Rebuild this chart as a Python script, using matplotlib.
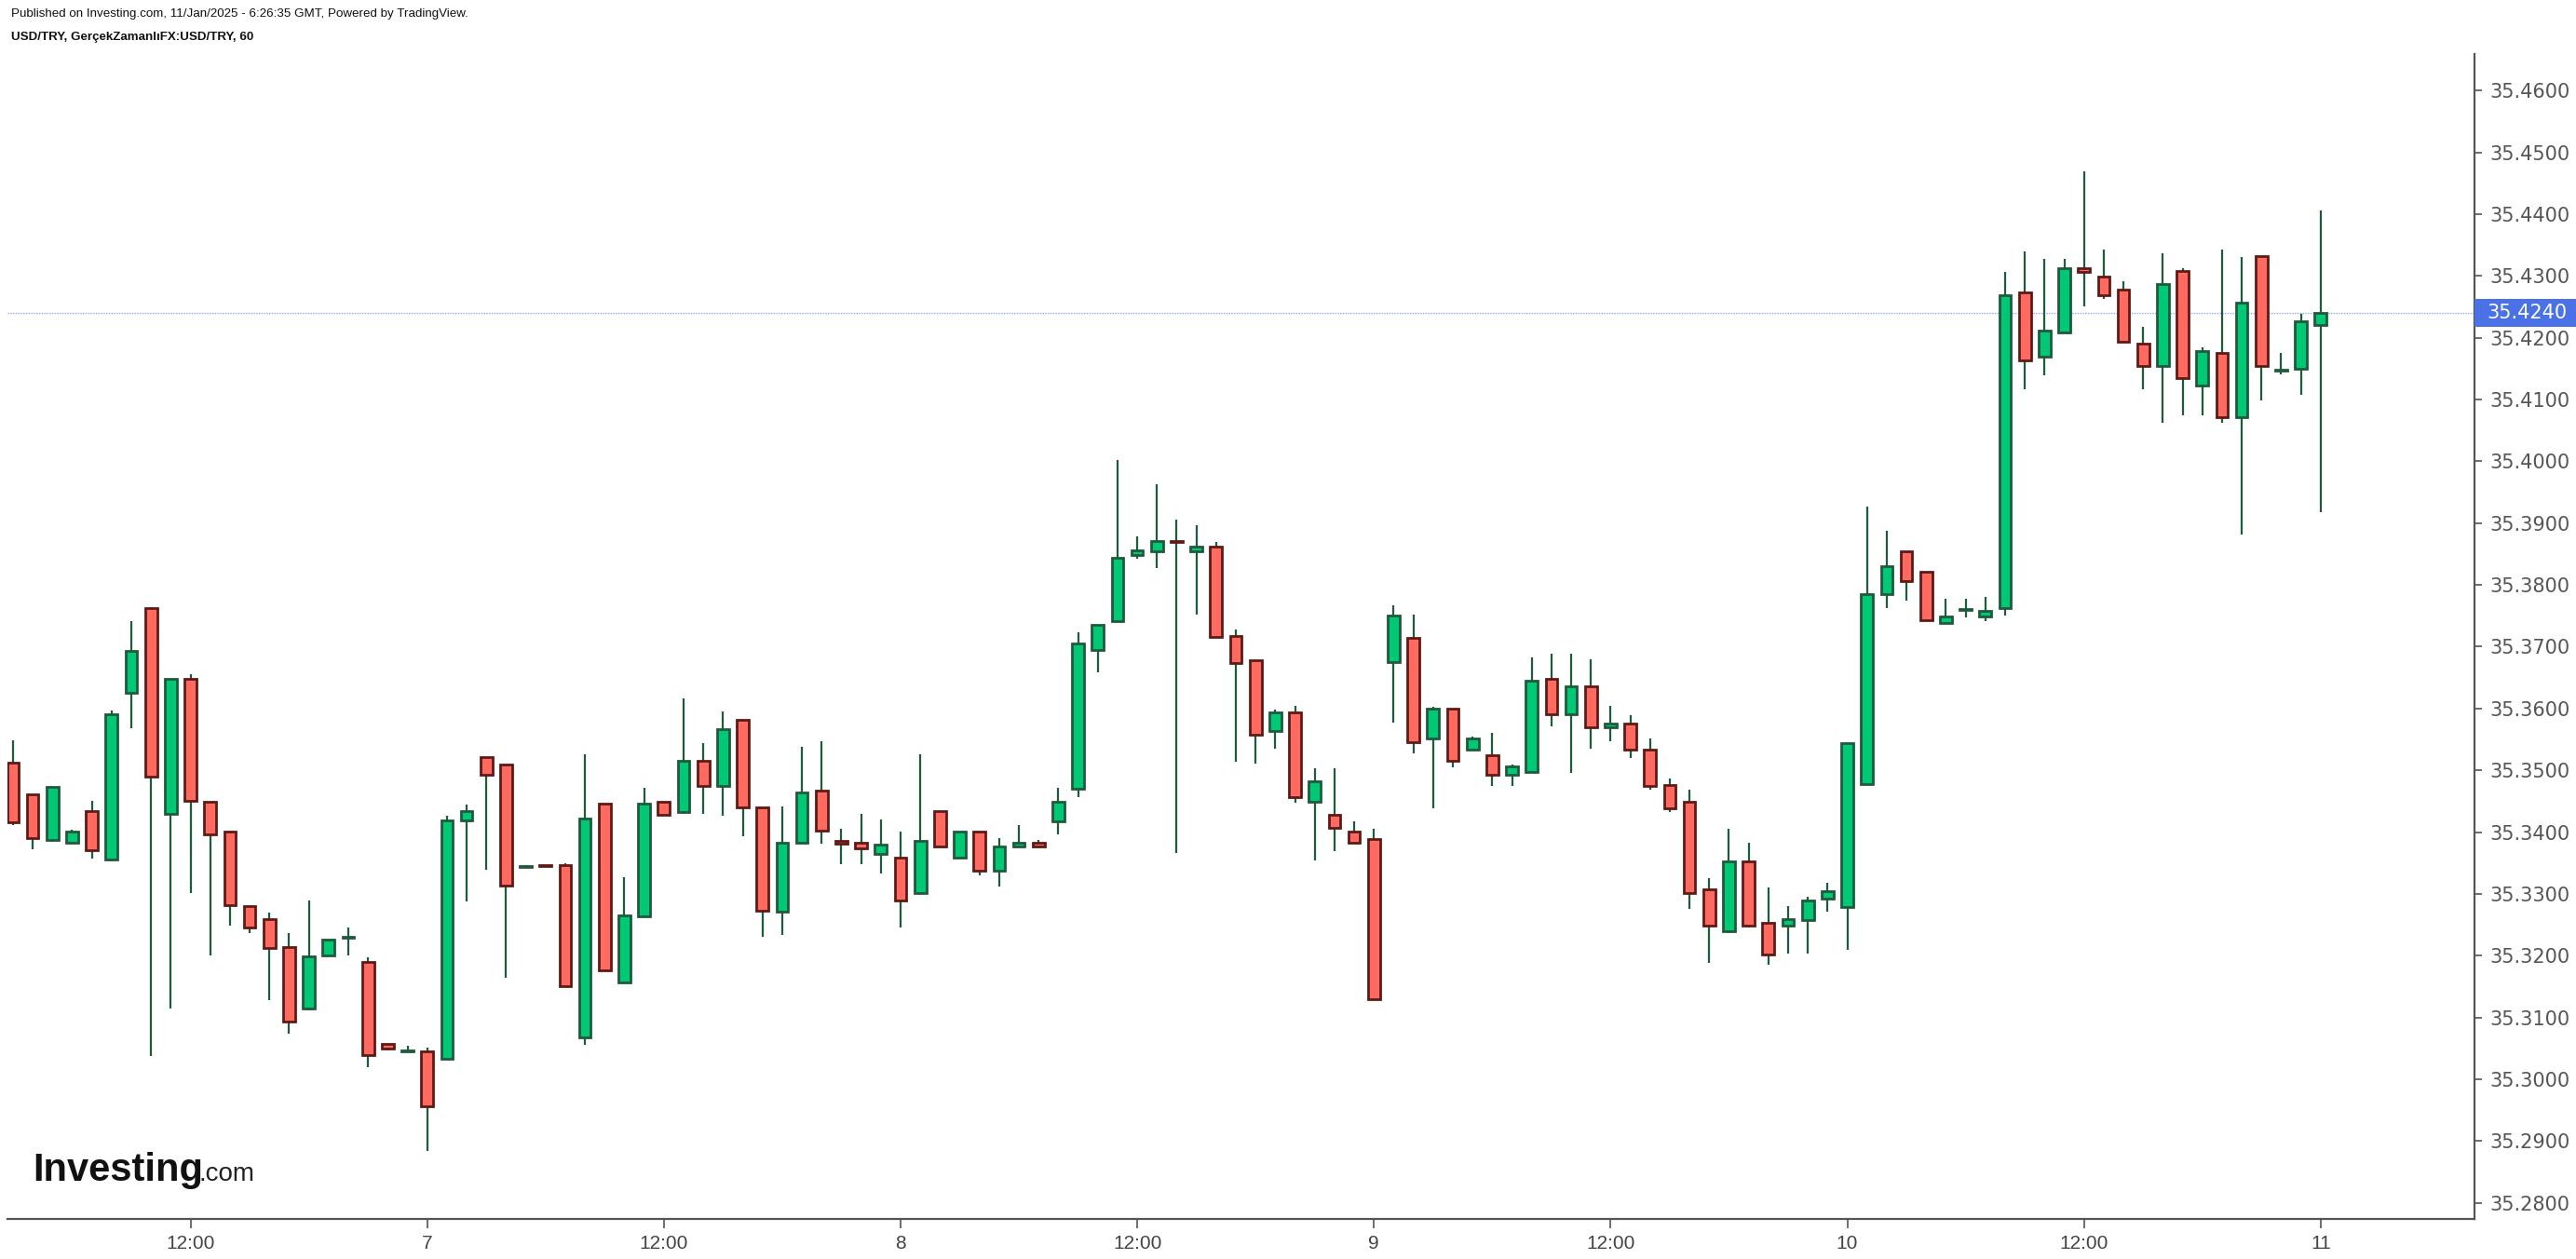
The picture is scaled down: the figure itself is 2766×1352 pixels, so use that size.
import matplotlib
matplotlib.use("Agg")
import matplotlib.pyplot as plt
from matplotlib.patches import Rectangle
from matplotlib.transforms import blended_transform_factory

# hourly candles, Jan 6 03:00 -> Jan 11 00:00
opens = [35.3512, 35.3461, 35.3388, 35.3382, 35.3434, 35.3355, 35.3626, 35.3762, 35.3430, 35.3648,
         35.3449, 35.3401, 35.3280, 35.3259, 35.3214, 35.3114, 35.3201, 35.3229, 35.3190, 35.3057,
         35.3045, 35.3045, 35.3033, 35.3419, 35.3522, 35.3509, 35.3344, 35.3346, 35.3347, 35.3068,
         35.3446, 35.3156, 35.3264, 35.3449, 35.3433, 35.3516, 35.3475, 35.3582, 35.3440, 35.3271,
         35.3382, 35.3467, 35.3386, 35.3383, 35.3364, 35.3359, 35.3301, 35.3434, 35.3358, 35.3401,
         35.3337, 35.3376, 35.3383, 35.3418, 35.3470, 35.3695, 35.3741, 35.3849, 35.3855, 35.3871,
         35.3855, 35.3862, 35.3717, 35.3678, 35.3563, 35.3594, 35.3449, 35.3428, 35.3401, 35.3389,
         35.3675, 35.3714, 35.3551, 35.3600, 35.3533, 35.3525, 35.3493, 35.3497, 35.3648, 35.3590,
         35.3636, 35.3569, 35.3576, 35.3534, 35.3476, 35.3449, 35.3308, 35.3240, 35.3353, 35.3253,
         35.3249, 35.3258, 35.3292, 35.3279, 35.3478, 35.3785, 35.3854, 35.3821, 35.3739, 35.3760,
         35.3749, 35.3763, 35.4273, 35.4170, 35.4209, 35.4312, 35.4299, 35.4278, 35.4191, 35.4154,
         35.4308, 35.4123, 35.4176, 35.4072, 35.4332, 35.4147, 35.4150, 35.4220]
highs = [35.3549, 35.3461, 35.3473, 35.3404, 35.3450, 35.3597, 35.3742, 35.3764, 35.3648, 35.3655,
         35.3449, 35.3401, 35.3280, 35.3269, 35.3236, 35.3290, 35.3226, 35.3245, 35.3197, 35.3057,
         35.3055, 35.3052, 35.3426, 35.3444, 35.3522, 35.3509, 35.3347, 35.3346, 35.3350, 35.3526,
         35.3446, 35.3327, 35.3471, 35.3449, 35.3616, 35.3544, 35.3595, 35.3582, 35.3440, 35.3441,
         35.3538, 35.3547, 35.3405, 35.3429, 35.3420, 35.3401, 35.3526, 35.3434, 35.3401, 35.3401,
         35.3390, 35.3411, 35.3387, 35.3471, 35.3724, 35.3736, 35.4002, 35.3878, 35.3963, 35.3905,
         35.3896, 35.3869, 35.3728, 35.3678, 35.3598, 35.3604, 35.3504, 35.3504, 35.3417, 35.3405,
         35.3767, 35.3752, 35.3603, 35.3600, 35.3555, 35.3561, 35.3510, 35.3682, 35.3688, 35.3688,
         35.3679, 35.3604, 35.3589, 35.3552, 35.3486, 35.3468, 35.3326, 35.3405, 35.3383, 35.3311,
         35.3281, 35.3296, 35.3318, 35.3544, 35.3927, 35.3888, 35.3854, 35.3821, 35.3777, 35.3777,
         35.3780, 35.4307, 35.4339, 35.4327, 35.4327, 35.4469, 35.4342, 35.4291, 35.4218, 35.4336,
         35.4312, 35.4185, 35.4342, 35.4330, 35.4332, 35.4176, 35.4239, 35.4406]
lows = [35.3412, 35.3372, 35.3385, 35.3382, 35.3357, 35.3355, 35.3568, 35.3038, 35.3114, 35.3301,
        35.3201, 35.3249, 35.3237, 35.3128, 35.3074, 35.3111, 35.3201, 35.3201, 35.3020, 35.3047,
        35.3045, 35.2884, 35.3033, 35.3288, 35.3339, 35.3165, 35.3344, 35.3346, 35.3150, 35.3056,
        35.3177, 35.3156, 35.3264, 35.3428, 35.3430, 35.3430, 35.3427, 35.3393, 35.3231, 35.3234,
        35.3382, 35.3381, 35.3348, 35.3348, 35.3333, 35.3246, 35.3301, 35.3376, 35.3358, 35.3330,
        35.3312, 35.3376, 35.3376, 35.3397, 35.3457, 35.3659, 35.3741, 35.3843, 35.3827, 35.3366,
        35.3752, 35.3714, 35.3514, 35.3511, 35.3535, 35.3448, 35.3354, 35.3369, 35.3382, 35.3129,
        35.3577, 35.3527, 35.3439, 35.3505, 35.3533, 35.3475, 35.3475, 35.3497, 35.3571, 35.3496,
        35.3535, 35.3547, 35.3520, 35.3469, 35.3433, 35.3276, 35.3189, 35.3237, 35.3246, 35.3186,
        35.3204, 35.3204, 35.3272, 35.3210, 35.3478, 35.3762, 35.3775, 35.3743, 35.3739, 35.3748,
        35.3742, 35.3750, 35.4117, 35.4139, 35.4209, 35.4250, 35.4262, 35.4193, 35.4117, 35.4063,
        35.4075, 35.4075, 35.4063, 35.3882, 35.4099, 35.4141, 35.4108, 35.3918]
closes = [35.3416, 35.3391, 35.3473, 35.3401, 35.3370, 35.3591, 35.3693, 35.3490, 35.3648, 35.3451,
          35.3397, 35.3282, 35.3246, 35.3213, 35.3093, 35.3199, 35.3226, 35.3230, 35.3039, 35.3050,
          35.3046, 35.2957, 35.3419, 35.3434, 35.3493, 35.3313, 35.3345, 35.3345, 35.3150, 35.3422,
          35.3177, 35.3265, 35.3446, 35.3428, 35.3516, 35.3475, 35.3567, 35.3440, 35.3273, 35.3383,
          35.3464, 35.3403, 35.3381, 35.3373, 35.3380, 35.3289, 35.3386, 35.3376, 35.3401, 35.3337,
          35.3377, 35.3383, 35.3376, 35.3449, 35.3705, 35.3736, 35.3844, 35.3856, 35.3871, 35.3870,
          35.3862, 35.3716, 35.3674, 35.3557, 35.3594, 35.3457, 35.3482, 35.3407, 35.3382, 35.3129,
          35.3751, 35.3545, 35.3600, 35.3515, 35.3552, 35.3493, 35.3506, 35.3645, 35.3590, 35.3636,
          35.3569, 35.3576, 35.3533, 35.3475, 35.3439, 35.3301, 35.3249, 35.3353, 35.3249, 35.3202,
          35.3259, 35.3290, 35.3305, 35.3544, 35.3785, 35.3830, 35.3806, 35.3743, 35.3749, 35.3760,
          35.3758, 35.4269, 35.4163, 35.4212, 35.4312, 35.4306, 35.4269, 35.4193, 35.4154, 35.4287,
          35.4135, 35.4179, 35.4072, 35.4257, 35.4154, 35.4148, 35.4227, 35.4240]

tick_pos = [9, 21, 33, 45, 57, 69, 81, 93, 105, 117]
tick_labels = ["12:00", "7", "12:00", "8", "12:00", "9", "12:00", "10", "12:00", "11"]
last_price = 35.4240

up_fill, up_edge = "#00c875", "#1e5a3c"
dn_fill, dn_edge = "#ff6a60", "#5e1a16"
wick_col = "#1e5a3c"
axis_col = "#555555"
narrow = ["Liberation Sans Narrow", "Liberation Sans"]

fig = plt.figure(figsize=(27.66, 13.52), dpi=100)
ax = fig.add_axes([0.0029, 0.0318, 0.9577, 0.9253])

x = list(range(len(opens)))
ax.vlines(x, lows, highs, color=wick_col, linewidth=1.6, zorder=2)

bottoms, heights, fills, edges = [], [], [], []
for o, c in zip(opens, closes):
    bottoms.append(min(o, c))
    heights.append(max(abs(c - o), 0.00006))
    if c >= o:
        fills.append(up_fill)
        edges.append(up_edge)
    else:
        fills.append(dn_fill)
        edges.append(dn_edge)
ax.bar(x, heights, bottom=bottoms, width=0.6, color=fills, edgecolor=edges,
       linewidth=2.0, zorder=3)

# last price line + label on the axis
ax.axhline(last_price, color="#8fa6f2", linewidth=1.0, linestyle=(0, (1, 1)), zorder=1)
tr = blended_transform_factory(ax.transAxes, ax.transData)
ax.add_patch(Rectangle((1.0, last_price - 0.00228), 0.0415, 0.00456, transform=tr,
                       facecolor="#4a72e6", edgecolor="none", clip_on=False, zorder=10))
ax.text(1.0052, last_price, "%.4f" % last_price, transform=tr, ha="left", va="center",
        color="white", fontsize=15, family="DejaVu Sans", zorder=11, clip_on=False)

ax.set_xlim(-0.28, 124.8)
ax.set_ylim(35.2774, 35.4659)

for s in ["top", "left"]:
    ax.spines[s].set_visible(False)
for s in ["bottom", "right"]:
    ax.spines[s].set_color(axis_col)
    ax.spines[s].set_linewidth(1.6)

ax.yaxis.tick_right()
yt = [35.28 + 0.01 * k for k in range(19)]
ax.set_yticks(yt)
ax.set_yticklabels(["%.4f" % v for v in yt], fontsize=15, color=axis_col,
                   family="DejaVu Sans")
ax.tick_params(axis="y", direction="out", length=6, width=1.2, color=axis_col, pad=6)

ax.set_xticks(tick_pos)
ax.set_xticklabels(tick_labels, fontsize=15, color="#444444", family=narrow)
ax.tick_params(axis="x", direction="out", length=7, width=1.2, color=axis_col, pad=5)

# header
fig.text(12 / 2766, 1 - 15 / 1352,
         "Published on Investing.com, 11/Jan/2025 - 6:26:35 GMT, Powered by TradingView.",
         fontsize=9.6, va="center", ha="left", color="#111111", family=narrow)
fig.text(12 / 2766, 1 - 40 / 1352, "USD/TRY, GerçekZamanlıFX:USD/TRY, 60",
         fontsize=9.6, va="center", ha="left", color="#111111", fontweight="bold",
         family=narrow)

# logo
fig.text(35 / 2766, 1 - 1268 / 1352, "Investing", fontsize=30, fontweight="bold",
         va="baseline", ha="left", color="#111111", family=narrow)
fig.text(214 / 2766, 1 - 1268 / 1352, ".com", fontsize=20,
         va="baseline", ha="left", color="#222222", family=narrow)

fig.savefig("out.png", dpi=100)
